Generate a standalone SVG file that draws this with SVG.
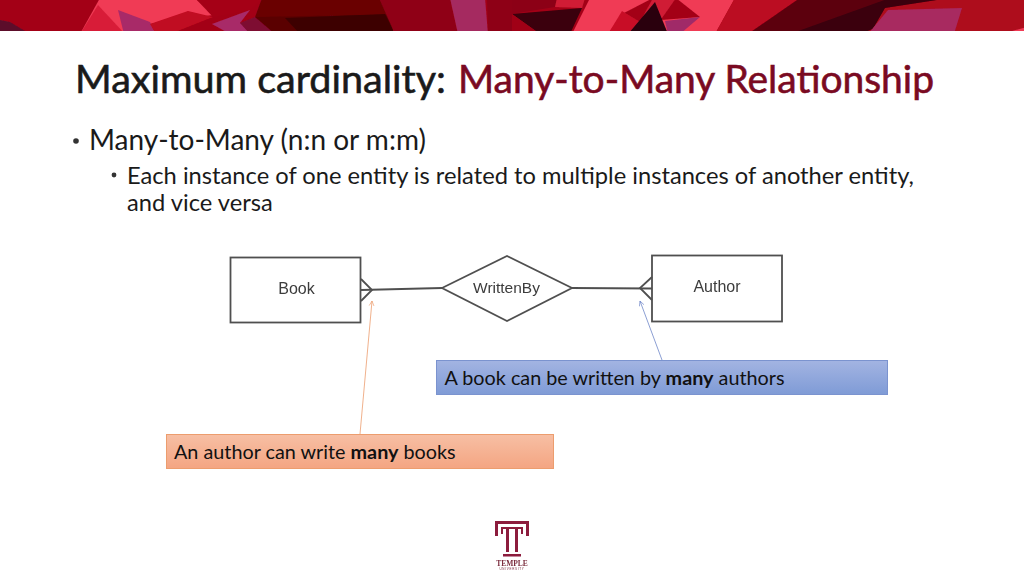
<svg xmlns="http://www.w3.org/2000/svg" width="1024" height="576" viewBox="0 0 1024 576">
<style>
.ln{fill:none;stroke:#505050;stroke-width:1.8}
.er{font-family:"Liberation Sans",Arial,sans-serif;font-size:16px;fill:#3c3c3c;text-anchor:middle}
.t{font-family:Lato,"Open Sans",sans-serif;fill:#1a1a1a}
.ttl{font-size:39.5px;stroke-width:.6}
.b1{font-size:28px}
.b2{font-size:23.7px}
.cap{font-size:19.8px;fill:#111}
.lg{fill:#8c1d3c}
</style>
<defs>
<filter id="soft" x="-2%" y="-5%" width="104%" height="110%"><feGaussianBlur stdDeviation=".45"/></filter>
<linearGradient id="blue" x1="0" y1="0" x2="0" y2="1"><stop offset="0" stop-color="#a3b4e2"/><stop offset="1" stop-color="#7f9bd6"/></linearGradient>
<linearGradient id="orange" x1="0" y1="0" x2="0" y2="1"><stop offset="0" stop-color="#f7bfa4"/><stop offset="1" stop-color="#f4a582"/></linearGradient>
<marker id="ao" markerWidth="8" markerHeight="8" refX="7" refY="4" orient="auto"><path d="M1 1L7 4L1 7" fill="none" stroke="#ec9d6e" stroke-width=".8"/></marker>
<marker id="ab" markerWidth="8" markerHeight="8" refX="7" refY="4" orient="auto"><path d="M1 1L7 4L1 7" fill="none" stroke="#6f86c8" stroke-width=".8"/></marker>
</defs>
<rect width="1024" height="576" fill="#fff"/>
<svg x="0" y="0" width="1024" height="31" viewBox="0 0 1024 31">
<g id="banner" filter="url(#soft)">
<rect x="-3" y="-3" width="1030" height="40" fill="#a30419"/>
<polygon points="0,20 10,22 30,34 0,34" fill="#5c0a2c"/>
<polygon points="100,-2 195,-2 213,15 150,24 125,34 80,34" fill="#f03a55"/>
<polygon points="98,5 125,34 80,34" fill="#d81f39"/>
<polygon points="118,10 150,22 156,34 124,34" fill="#a82a68"/>
<polygon points="150,24 188,11 213,17 170,34 156,34" fill="#c00a20"/>
<polygon points="195,-2 262,-2 250,10 213,17" fill="#a50418"/>
<polygon points="250,10 212,24 230,34 275,34 240,23" fill="#a82a68"/>
<polygon points="240,23 255,17 275,34 250,34" fill="#7e0a32"/>
<polygon points="262,-2 385,-2 395,14 280,17 255,17" fill="#6b0006"/>
<polygon points="255,17 395,14 392,34 275,34" fill="#5a0005"/>
<polygon points="285,18 385,14 395,34 300,34" fill="#3d0004"/>
<polygon points="379,-2 450,-2 458,34 395,34" fill="#8f0414"/>
<polygon points="450,-2 485,-2 488,34 458,34" fill="#a52a60"/>
<polygon points="487,-2 512,-2 512,34 488,34" fill="#8e0418"/>
<polygon points="512,-2 557,-2 555,7 512,14" fill="#8c0515"/>
<polygon points="512,14 582,8 570,34 540,34" fill="#3a0508"/>
<polygon points="512,14 540,34 512,34" fill="#a00418"/>
<polygon points="557,-2 585,-2 582,8 555,7" fill="#d01c35"/>
<polygon points="590,-2 653,-2 622,14 608,34 572,34" fill="#f03a55"/>
<polygon points="622,11 640,22 630,34 608,34" fill="#c80f28"/>
<polygon points="653,-2 676,-2 662,18 640,22" fill="#d01c35"/>
<polygon points="676,-2 735,-2 715,34 668,34 661,20 700,17" fill="#f03a55"/>
<polygon points="655,2 668,34 628,34" fill="#2a0410"/>
<polygon points="665,21 700,17 680,34 668,34" fill="#a02a68"/>
<polygon points="735,-2 800,-2 748,34 715,34" fill="#bb0a20"/>
<polygon points="800,-2 955,-2 900,20 790,34 748,34" fill="#5c0510"/>
<polygon points="890,-2 950,-2 860,34 790,34" fill="#3a0208"/>
<polygon points="950,-2 1027,-2 1027,34 870,34 885,8" fill="#ae0a1e"/>
<polygon points="888,10 962,8 954,34 868,34" fill="#a82a60"/>
<polygon points="1012,31 1027,27 1027,34" fill="#f03a55"/>
</g>
</svg>
<g id="title">
<text class="t ttl" x="75" y="93" textLength="371" lengthAdjust="spacingAndGlyphs" fill="#1a1a1a" stroke="#1a1a1a">Maximum cardinality:</text>
<text class="t ttl" x="458" y="93" textLength="476" lengthAdjust="spacingAndGlyphs" style="fill:#7a0a22" stroke="#7a0a22">Many-to-Many Relationship</text>
</g>
<g id="bullets">
<circle cx="76" cy="141" r="2.8" fill="#333"/>
<text class="t b1" x="89" y="150">Many-to-Many (n:n or m:m)</text>
<circle cx="114" cy="175" r="2.4" fill="#333"/>
<text class="t b2" x="127" y="184">Each instance of one entity is related to multiple instances of another entity,</text>
<text class="t b2" x="127" y="211">and vice versa</text>
</g>
<g id="connectors">
<g filter="url(#soft)">
<path class="ln" d="M361 290L442 288"/>
<path class="ln" d="M361 279L372 290L361 301"/>
<path class="ln" d="M572 288L652 288.500"/>
<path class="ln" d="M652 277L640 288L652 300"/>
</g>
<path d="M360 434L372 301" fill="none" stroke="#ec9d6e" stroke-width=".8" marker-end="url(#ao)"/>
<path d="M662 360L640 301" fill="none" stroke="#6f86c8" stroke-width=".8" marker-end="url(#ab)"/>
</g>
<g id="book" filter="url(#soft)">
<rect class="ln" x="230.500" y="257.500" width="130" height="65"/>
<text class="er" x="296.500" y="294">Book</text>
</g>
<g id="writtenby" filter="url(#soft)">
<polygon class="ln" points="442,288 507,256 572,288 507,321"/>
<text class="er" x="506.500" y="293" font-size="15.500" style="font-size:15.500px">WrittenBy</text>
</g>
<g id="author" filter="url(#soft)">
<rect class="ln" x="652" y="255.500" width="130" height="66"/>
<text class="er" x="717" y="292">Author</text>
</g>
<g id="note-blue">
<rect x="436.500" y="360.500" width="451" height="34" fill="url(#blue)" stroke="#7b93cf"/>
<text class="t cap" x="444.500" y="385">A book can be written by <tspan font-weight="700">many</tspan> authors</text>
</g>
<g id="note-orange">
<rect x="166.500" y="434.500" width="387" height="34" fill="url(#orange)" stroke="#ec9d6e"/>
<text class="t cap" x="174" y="459">An author can write <tspan font-weight="700">many</tspan> books</text>
</g>
<g id="logo" filter="url(#soft)">
<path class="lg" d="M495 521H529V536H526V524H498V536H495Z"/>
<path class="lg" d="M501 527H523V534H521V529H518V552H515V529H509V552H506V529H503V534H501Z"/>
<rect class="lg" x="503" y="554" width="18" height="2.500"/>
<text x="512" y="566" font-family="Liberation Serif,serif" font-size="7.500" font-weight="700" fill="#7a2a3c" text-anchor="middle">TEMPLE</text>
<text x="512" y="570" font-family="Liberation Sans,sans-serif" font-size="3" fill="#7a2a3c" text-anchor="middle" letter-spacing=".7">UNIVERSITY</text>
</g>
</svg>
